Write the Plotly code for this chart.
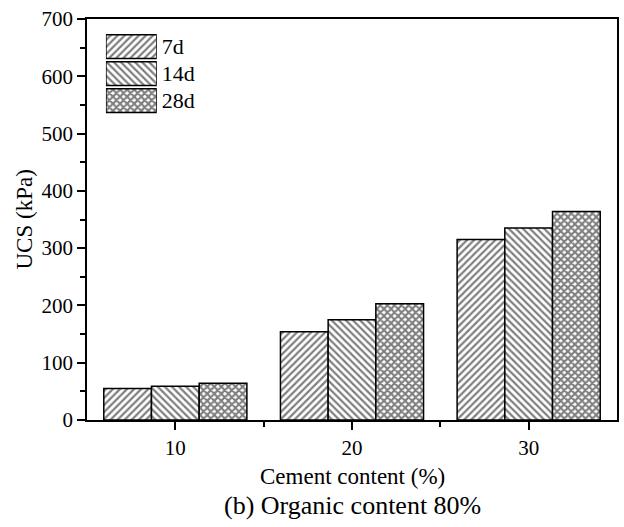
import plotly.graph_objects as go

# Cement content groups and UCS values (kPa) at each curing age
cement_content = [10, 20, 30]
ucs_7d = [55, 154, 315]
ucs_14d = [59, 175, 335]
ucs_28d = [64, 203, 364]

series_names = ["7d", "14d", "28d"]
series_values = [ucs_7d, ucs_14d, ucs_28d]
series_patterns = ["/", "\\", "x"]
series_solidity = [0.45, 0.45, 0.65]

y_ticks = [0, 100, 200, 300, 400, 500, 600, 700]
x_ticks = [10, 20, 30]

FONT = "Liberation Serif, Times New Roman, serif"

fig = go.Figure()

for name, vals, pat, sol in zip(series_names, series_values, series_patterns, series_solidity):
    fig.add_trace(go.Bar(
        x=cement_content, y=vals, name=name,
        marker=dict(
            color="white",
            line=dict(color="black", width=1.5),
            pattern=dict(shape=pat, fgcolor="black", bgcolor="white",
                         size=5, solidity=sol, fillmode="overlay"),
        ),
        showlegend=False,
    ))

# Legend swatches drawn as a small horizontal bar chart on its own axes
fig.add_trace(go.Bar(
    x=[1, 1, 1], y=series_names, orientation="h",
    width=0.88,
    marker=dict(
        color="white",
        line=dict(color="black", width=1.5),
        pattern=dict(shape=series_patterns, fgcolor="black", bgcolor="white",
                     size=5, solidity=series_solidity, fillmode="overlay"),
    ),
    xaxis="x2", yaxis="y2", showlegend=False, hoverinfo="skip",
))

fig.update_layout(
    width=624, height=527,
    margin=dict(l=87, r=5, t=19, b=107),
    paper_bgcolor="white", plot_bgcolor="white",
    barmode="group", bargap=0.19, bargroupgap=0,
    font=dict(family=FONT, size=21, color="black"),
    xaxis=dict(
        range=[5, 35], tickvals=x_ticks, ticks="outside", ticklen=8,
        tickwidth=1.5, tickcolor="black",
        minor=dict(tickvals=[15, 25], ticks="outside", ticklen=5,
                   tickwidth=1.5, tickcolor="black"),
        showline=True, linecolor="black", linewidth=1.5, mirror=True,
        showgrid=False, zeroline=False,
        tickfont=dict(family=FONT, size=21),
    ),
    yaxis=dict(
        range=[0, 700], tickvals=y_ticks, ticks="outside", ticklen=8,
        tickwidth=1.5, tickcolor="black",
        minor=dict(dtick=50, ticks="outside", ticklen=5,
                   tickwidth=1.5, tickcolor="black"),
        showline=True, linecolor="black", linewidth=1.5, mirror=True,
        showgrid=False, zeroline=False,
        tickfont=dict(family=FONT, size=21),
    ),
    xaxis2=dict(
        domain=[0.0357, 0.1316], range=[0, 1], anchor="y2", visible=False,
        fixedrange=True,
    ),
    yaxis2=dict(
        domain=[0.763, 0.965], range=[2.5, -0.5], anchor="x2", side="right",
        showline=False, ticks="", showgrid=False, zeroline=False,
        tickfont=dict(family=FONT, size=22), ticklabelstandoff=4,
        fixedrange=True,
    ),
    annotations=[
        dict(text="UCS (kPa)", x=-0.117, y=0.5, xref="paper", yref="paper",
             xanchor="center", yanchor="middle", textangle=-90, showarrow=False,
             font=dict(family=FONT, size=23)),
        dict(text="Cement content (%)", x=0.5, y=-0.142, xref="paper", yref="paper",
             xanchor="center", yanchor="middle", showarrow=False,
             font=dict(family=FONT, size=23)),
        dict(text="(b) Organic content 80%", x=0.5, y=-0.214, xref="paper", yref="paper",
             xanchor="center", yanchor="middle", showarrow=False,
             font=dict(family=FONT, size=26)),
    ],
)

fig.write_html("out.html")
